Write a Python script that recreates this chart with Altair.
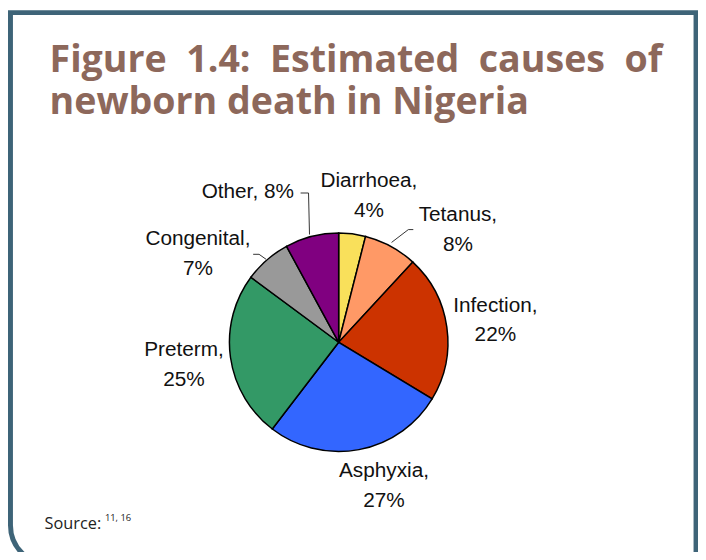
import altair as alt
import pandas as pd

# ---- data ----
causes = ["Diarrhoea", "Tetanus", "Infection", "Asphyxia", "Preterm", "Congenital", "Other"]
shares = [4, 8, 22, 27, 25, 7, 8]
colors = ["#F9E05B", "#FF9966", "#CC3300", "#3366FF", "#339966", "#999999", "#800080"]
labels = ["Diarrhoea,\n4%", "Tetanus,\n8%", "Infection,\n22%", "Asphyxia,\n27%",
          "Preterm,\n25%", "Congenital,\n7%", "Other, 8%"]
title_line1 = ["Figure", "1.4:", "Estimated", "causes", "of"]
title_line2 = "newborn death in Nigeria"
source_text = "Source:"
source_refs = "11, 16"

total = sum(shares)
df = pd.DataFrame({"cause": causes, "share": shares,
                   "order": list(range(len(causes))), "label": labels})

# ---- layout (view coords; page = view + 8) ----
W, H = 698, 544
CX, CY = 334.5, 335
R = 110.5
theta_scale = alt.Scale(domain=[0, total])

pie = alt.Chart(df).mark_arc(outerRadius=R, stroke="black", strokeWidth=1.5).encode(
    theta=alt.Theta("share:Q", stack=True, scale=theta_scale),
    color=alt.Color("cause:N", scale=alt.Scale(domain=causes, range=colors), legend=None),
    order=alt.Order("order:Q"),
    x=alt.value(CX), y=alt.value(CY),
)

label_offsets = {"Diarrhoea": (12, -8), "Tetanus": (49, 9), "Infection": (10, -10),
                 "Asphyxia": (18, -11), "Preterm": (-8, -7), "Congenital": (-44, 15),
                 "Other": (-55, -1)}

lab_base = alt.Chart(df).transform_window(
    cum="sum(share)", sort=[alt.SortField("order")], frame=[None, 0]
).transform_calculate(mid="datum.cum - datum.share / 2")

layers = [pie]
for c in causes:
    dx, dy = label_offsets[c]
    layers.append(
        lab_base.transform_filter(alt.datum.cause == c).mark_text(
            radius=150, dx=dx, dy=dy, font="Liberation Sans", fontSize=21,
            lineHeight=30, lineBreak="\n", align="center", baseline="alphabetic",
            color="#111111",
        ).encode(
            theta=alt.Theta("mid:Q", stack=False, scale=theta_scale),
            text="label:N",
            x=alt.value(CX), y=alt.value(CY),
        )
    )

# leader lines (view coords)
leaders = [
    (388, 234, 405, 221), (405, 221, 410, 221),
    (305, 226, 304, 184), (304, 184, 296, 184),
    (261, 251, 254, 246), (254, 246, 248, 246),
]
for x1, y1, x2, y2 in leaders:
    layers.append(
        alt.Chart(df.head(1)).mark_rule(color="#333333", strokeWidth=1).encode(
            x=alt.value(x1), y=alt.value(y1), x2=alt.value(x2), y2=alt.value(y2)
        )
    )

# frame
layers.append(
    alt.Chart(df.head(1)).mark_rect(
        filled=False, stroke="#3E6478", strokeWidth=5, cornerRadiusBottomLeft=40
    ).encode(x=alt.value(2.5), x2=alt.value(696), y=alt.value(1.5), y2=alt.value(560))
)

# title (justified first line imitated with non-breaking spaces)
TCOL = "#8D685B"
TFS = 38
NB2 = "\u00a0\u00a0"
title_text = NB2.join(title_line1) + "\n" + title_line2
layers.append(
    alt.Chart(df.head(1)).mark_text(
        text=title_text, font="Open Sans", fontWeight="bold", fontSize=TFS, color=TCOL,
        align="left", baseline="alphabetic", lineBreak="\n", lineHeight=42
    ).encode(x=alt.value(42), y=alt.value(62))
)

# source
layers.append(
    alt.Chart(df.head(1)).mark_text(
        text=source_text, font="Open Sans", fontSize=16.5, color="#222222",
        align="left", baseline="alphabetic"
    ).encode(x=alt.value(37), y=alt.value(524))
)
layers.append(
    alt.Chart(df.head(1)).mark_text(
        text=source_refs, font="Open Sans", fontSize=9.5, color="#222222",
        align="left", baseline="alphabetic"
    ).encode(x=alt.value(98), y=alt.value(516))
)

chart = alt.layer(*layers).properties(
    width=W, height=H, padding=0, autosize=alt.AutoSizeParams(type="none")
).configure_view(stroke=None)

chart.save("out.html", embed_options={"renderer": "svg", "actions": False})
